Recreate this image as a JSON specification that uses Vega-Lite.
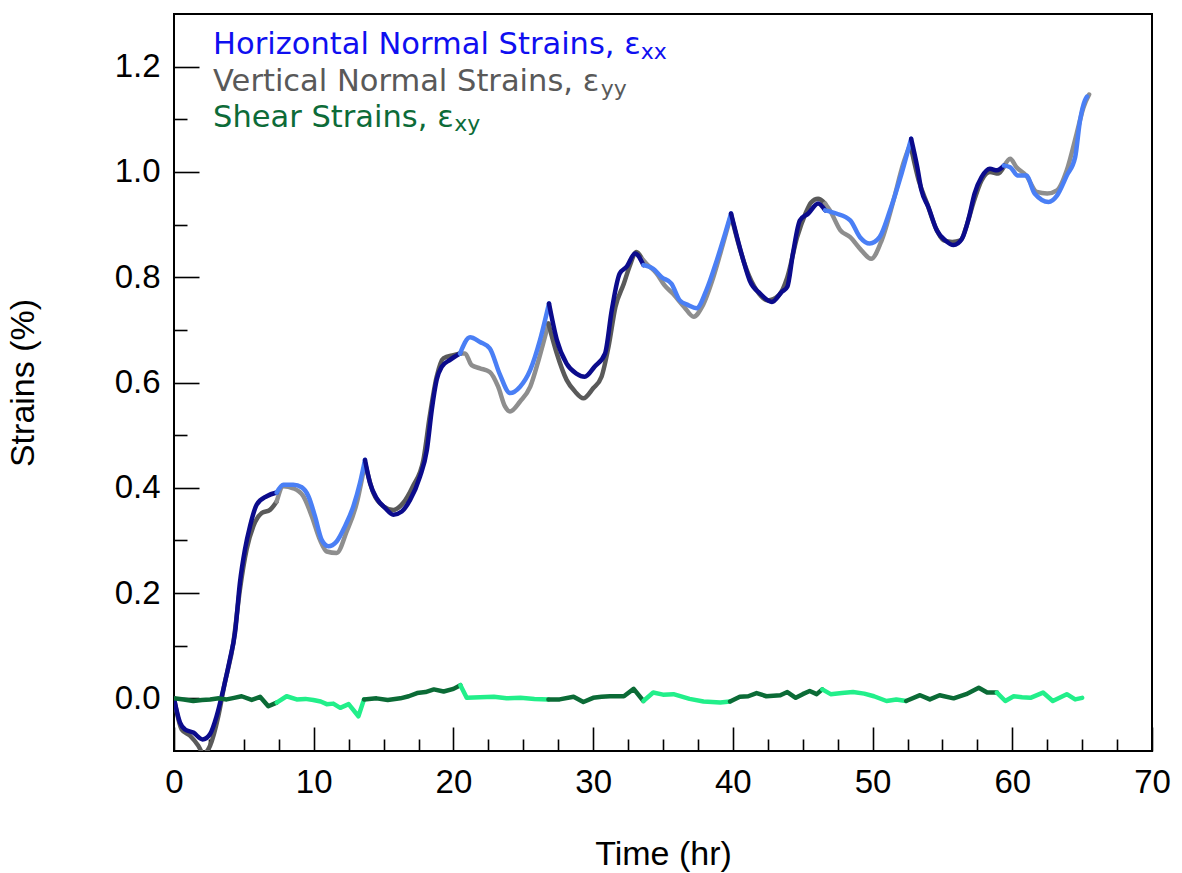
{
  "$schema": "https://vega.github.io/schema/vega-lite/v6.json",
  "width": 978,
  "height": 737,
  "autosize": {"type": "none"},
  "padding": {"left": 174, "top": 14, "right": 30, "bottom": 122},
  "background": "white",
  "config": {
    "view": {"stroke": "black", "strokeWidth": 2},
    "axis": {"labelFont": "Liberation Sans", "titleFont": "Liberation Sans", "labelColor": "black", "titleColor": "black", "tickColor": "black", "titleFontWeight": "normal", "grid": false, "domain": false, "tickWidth": 1.6}
  },
  "datasets": {
    "strain": [
      {"k":"exx A","g":0,"t":0,"v":0},{"k":"exx A","g":0,"t":0.43,"v":-0.046},{"k":"exx A","g":0,"t":0.79,"v":-0.059},{"k":"exx A","g":0,"t":1.38,"v":-0.065},{"k":"exx A","g":0,"t":2.05,"v":-0.078},{"k":"exx A","g":0,"t":2.58,"v":-0.068},{"k":"exx A","g":0,"t":3.05,"v":-0.034},{"k":"exx A","g":0,"t":3.53,"v":0.017},{"k":"exx A","g":0,"t":4.0,"v":0.074},{"k":"exx A","g":0,"t":4.37,"v":0.125},{"k":"exx A","g":0,"t":4.72,"v":0.22},{"k":"exx A","g":0,"t":5.08,"v":0.283},{"k":"exx A","g":0,"t":5.44,"v":0.327},{"k":"exx A","g":0,"t":5.92,"v":0.368},{"k":"exx A","g":0,"t":6.64,"v":0.384},{"k":"exx A","g":0,"t":7.35,"v":0.391},
      {"k":"exx B","g":1,"t":7.35,"v":0.391},{"k":"exx B","g":1,"t":7.83,"v":0.406},{"k":"exx B","g":1,"t":8.54,"v":0.406},{"k":"exx B","g":1,"t":9.14,"v":0.401},{"k":"exx B","g":1,"t":9.62,"v":0.384},{"k":"exx B","g":1,"t":10.09,"v":0.346},{"k":"exx B","g":1,"t":10.57,"v":0.301},{"k":"exx B","g":1,"t":11.05,"v":0.289},{"k":"exx B","g":1,"t":11.64,"v":0.298},{"k":"exx B","g":1,"t":12.24,"v":0.327},{"k":"exx B","g":1,"t":12.84,"v":0.365},{"k":"exx B","g":1,"t":13.31,"v":0.409},{"k":"exx B","g":1,"t":13.67,"v":0.453},
      {"k":"exx A","g":2,"t":13.67,"v":0.453},{"k":"exx A","g":2,"t":14.03,"v":0.409},{"k":"exx A","g":2,"t":14.51,"v":0.38},{"k":"exx A","g":2,"t":15.1,"v":0.362},{"k":"exx A","g":2,"t":15.7,"v":0.349},{"k":"exx A","g":2,"t":16.3,"v":0.355},{"k":"exx A","g":2,"t":16.9,"v":0.377},{"k":"exx A","g":2,"t":17.6,"v":0.421},{"k":"exx A","g":2,"t":18.1,"v":0.472},{"k":"exx A","g":2,"t":18.45,"v":0.548},{"k":"exx A","g":2,"t":18.8,"v":0.605},{"k":"exx A","g":2,"t":19.16,"v":0.63},{"k":"exx A","g":2,"t":19.76,"v":0.643},{"k":"exx A","g":2,"t":20.47,"v":0.655},
      {"k":"exx B","g":3,"t":20.47,"v":0.655},{"k":"exx B","g":3,"t":21.19,"v":0.686},{"k":"exx B","g":3,"t":21.9,"v":0.677},{"k":"exx B","g":3,"t":22.6,"v":0.665},{"k":"exx B","g":3,"t":23.3,"v":0.617},{"k":"exx B","g":3,"t":24.05,"v":0.58},{"k":"exx B","g":3,"t":24.77,"v":0.592},{"k":"exx B","g":3,"t":25.5,"v":0.624},{"k":"exx B","g":3,"t":26.2,"v":0.681},{"k":"exx B","g":3,"t":26.84,"v":0.75},
      {"k":"exx A","g":4,"t":26.84,"v":0.75},{"k":"exx A","g":4,"t":27.4,"v":0.681},{"k":"exx A","g":4,"t":28.1,"v":0.636},{"k":"exx A","g":4,"t":28.8,"v":0.617},{"k":"exx A","g":4,"t":29.4,"v":0.611},{"k":"exx A","g":4,"t":30.1,"v":0.63},{"k":"exx A","g":4,"t":30.85,"v":0.655},{"k":"exx A","g":4,"t":31.33,"v":0.737},{"k":"exx A","g":4,"t":31.9,"v":0.807},{"k":"exx A","g":4,"t":32.4,"v":0.82},{"k":"exx A","g":4,"t":33.0,"v":0.845},{"k":"exx A","g":4,"t":33.6,"v":0.823},
      {"k":"exx B","g":5,"t":33.6,"v":0.823},{"k":"exx B","g":5,"t":34.3,"v":0.816},{"k":"exx B","g":5,"t":34.9,"v":0.8},{"k":"exx B","g":5,"t":35.6,"v":0.788},{"k":"exx B","g":5,"t":36.2,"v":0.756},{"k":"exx B","g":5,"t":36.8,"v":0.747},{"k":"exx B","g":5,"t":37.4,"v":0.741},{"k":"exx B","g":5,"t":38.1,"v":0.775},{"k":"exx B","g":5,"t":38.85,"v":0.832},{"k":"exx B","g":5,"t":39.45,"v":0.883},{"k":"exx B","g":5,"t":39.87,"v":0.921},
      {"k":"exx A","g":6,"t":39.87,"v":0.921},{"k":"exx A","g":6,"t":40.3,"v":0.876},{"k":"exx A","g":6,"t":40.75,"v":0.832},{"k":"exx A","g":6,"t":41.2,"v":0.794},{"k":"exx A","g":6,"t":41.95,"v":0.769},{"k":"exx A","g":6,"t":42.8,"v":0.753},{"k":"exx A","g":6,"t":43.5,"v":0.772},{"k":"exx A","g":6,"t":43.9,"v":0.782},{"k":"exx A","g":6,"t":44.3,"v":0.845},{"k":"exx A","g":6,"t":44.8,"v":0.908},{"k":"exx A","g":6,"t":45.4,"v":0.921},{"k":"exx A","g":6,"t":46.1,"v":0.94},{"k":"exx A","g":6,"t":46.6,"v":0.927},
      {"k":"exx B","g":7,"t":46.6,"v":0.927},{"k":"exx B","g":7,"t":47.4,"v":0.921},{"k":"exx B","g":7,"t":48.4,"v":0.908},{"k":"exx B","g":7,"t":49.1,"v":0.876},{"k":"exx B","g":7,"t":49.8,"v":0.864},{"k":"exx B","g":7,"t":50.5,"v":0.876},{"k":"exx B","g":7,"t":51.25,"v":0.927},{"k":"exx B","g":7,"t":52.0,"v":0.99},{"k":"exx B","g":7,"t":52.76,"v":1.063},
      {"k":"exx A","g":8,"t":52.76,"v":1.063},{"k":"exx A","g":8,"t":53.2,"v":1.009},{"k":"exx A","g":8,"t":53.5,"v":0.965},{"k":"exx A","g":8,"t":54.0,"v":0.933},{"k":"exx A","g":8,"t":54.6,"v":0.889},{"k":"exx A","g":8,"t":55.2,"v":0.87},{"k":"exx A","g":8,"t":55.8,"v":0.861},{"k":"exx A","g":8,"t":56.4,"v":0.873},{"k":"exx A","g":8,"t":56.9,"v":0.914},{"k":"exx A","g":8,"t":57.3,"v":0.959},{"k":"exx A","g":8,"t":57.8,"v":0.99},{"k":"exx A","g":8,"t":58.4,"v":1.006},{"k":"exx A","g":8,"t":58.9,"v":1.003},{"k":"exx A","g":8,"t":59.4,"v":1.012},
      {"k":"exx B","g":9,"t":59.4,"v":1.012},{"k":"exx B","g":9,"t":59.85,"v":1.009},{"k":"exx B","g":9,"t":60.4,"v":0.993},{"k":"exx B","g":9,"t":61.0,"v":0.993},{"k":"exx B","g":9,"t":61.6,"v":0.959},{"k":"exx B","g":9,"t":62.6,"v":0.943},{"k":"exx B","g":9,"t":63.2,"v":0.955},{"k":"exx B","g":9,"t":63.9,"v":0.993},{"k":"exx B","g":9,"t":64.5,"v":1.028},{"k":"exx B","g":9,"t":64.85,"v":1.098},{"k":"exx B","g":9,"t":65.2,"v":1.136},{"k":"exx B","g":9,"t":65.35,"v":1.143},

      {"k":"eyy A","g":0,"t":0,"v":0},{"k":"eyy A","g":0,"t":0.55,"v":-0.059},{"k":"eyy A","g":0,"t":1.15,"v":-0.071},{"k":"eyy A","g":0,"t":1.74,"v":-0.09},{"k":"eyy A","g":0,"t":2.1,"v":-0.105},{"k":"eyy A","g":0,"t":2.58,"v":-0.09},{"k":"eyy A","g":0,"t":3.17,"v":-0.034},{"k":"eyy A","g":0,"t":3.6,"v":0.025},{"k":"eyy A","g":0,"t":4.25,"v":0.106},{"k":"eyy A","g":0,"t":4.72,"v":0.207},{"k":"eyy A","g":0,"t":5.2,"v":0.283},{"k":"eyy A","g":0,"t":5.68,"v":0.327},{"k":"eyy A","g":0,"t":6.28,"v":0.352},{"k":"eyy A","g":0,"t":6.87,"v":0.358},{"k":"eyy A","g":0,"t":7.35,"v":0.374},
      {"k":"eyy B","g":1,"t":7.35,"v":0.374},{"k":"eyy B","g":1,"t":7.83,"v":0.403},{"k":"eyy B","g":1,"t":8.54,"v":0.399},{"k":"eyy B","g":1,"t":9.26,"v":0.384},{"k":"eyy B","g":1,"t":9.86,"v":0.346},{"k":"eyy B","g":1,"t":10.45,"v":0.301},{"k":"eyy B","g":1,"t":10.93,"v":0.279},{"k":"eyy B","g":1,"t":11.64,"v":0.276},{"k":"eyy B","g":1,"t":12.36,"v":0.317},{"k":"eyy B","g":1,"t":13.08,"v":0.371},{"k":"eyy B","g":1,"t":13.67,"v":0.447},
      {"k":"eyy A","g":2,"t":13.67,"v":0.447},{"k":"eyy A","g":2,"t":14.27,"v":0.39},{"k":"eyy A","g":2,"t":14.98,"v":0.365},{"k":"eyy A","g":2,"t":15.7,"v":0.358},{"k":"eyy A","g":2,"t":16.4,"v":0.371},{"k":"eyy A","g":2,"t":17.1,"v":0.403},{"k":"eyy A","g":2,"t":17.85,"v":0.453},{"k":"eyy A","g":2,"t":18.3,"v":0.535},{"k":"eyy A","g":2,"t":18.8,"v":0.611},{"k":"eyy A","g":2,"t":19.28,"v":0.646},{"k":"eyy A","g":2,"t":20.0,"v":0.652},{"k":"eyy A","g":2,"t":20.5,"v":0.655},
      {"k":"eyy B","g":3,"t":20.5,"v":0.655},{"k":"eyy B","g":3,"t":20.83,"v":0.655},{"k":"eyy B","g":3,"t":21.3,"v":0.633},{"k":"eyy B","g":3,"t":21.9,"v":0.627},{"k":"eyy B","g":3,"t":22.6,"v":0.62},{"k":"eyy B","g":3,"t":23.2,"v":0.592},{"k":"eyy B","g":3,"t":23.7,"v":0.554},{"k":"eyy B","g":3,"t":24.05,"v":0.545},{"k":"eyy B","g":3,"t":24.77,"v":0.564},{"k":"eyy B","g":3,"t":25.5,"v":0.592},{"k":"eyy B","g":3,"t":26.1,"v":0.643},{"k":"eyy B","g":3,"t":26.8,"v":0.712},
      {"k":"eyy A","g":4,"t":26.8,"v":0.712},{"k":"eyy A","g":4,"t":27.4,"v":0.655},{"k":"eyy A","g":4,"t":28.1,"v":0.605},{"k":"eyy A","g":4,"t":28.7,"v":0.583},{"k":"eyy A","g":4,"t":29.3,"v":0.57},{"k":"eyy A","g":4,"t":30.0,"v":0.589},{"k":"eyy A","g":4,"t":30.6,"v":0.611},{"k":"eyy A","g":4,"t":31.1,"v":0.668},{"k":"eyy A","g":4,"t":31.6,"v":0.744},{"k":"eyy A","g":4,"t":32.2,"v":0.788},{"k":"eyy A","g":4,"t":32.6,"v":0.82},{"k":"eyy A","g":4,"t":33.1,"v":0.848},{"k":"eyy A","g":4,"t":33.5,"v":0.835},
      {"k":"eyy B","g":5,"t":33.5,"v":0.835},{"k":"eyy B","g":5,"t":33.8,"v":0.826},{"k":"eyy B","g":5,"t":34.55,"v":0.807},{"k":"eyy B","g":5,"t":35.1,"v":0.785},{"k":"eyy B","g":5,"t":35.7,"v":0.769},{"k":"eyy B","g":5,"t":36.5,"v":0.744},{"k":"eyy B","g":5,"t":37.2,"v":0.725},{"k":"eyy B","g":5,"t":37.8,"v":0.744},{"k":"eyy B","g":5,"t":38.6,"v":0.8},{"k":"eyy B","g":5,"t":39.3,"v":0.864},{"k":"eyy B","g":5,"t":39.87,"v":0.918},
      {"k":"eyy A","g":6,"t":39.87,"v":0.918},{"k":"eyy A","g":6,"t":40.4,"v":0.864},{"k":"eyy A","g":6,"t":41.0,"v":0.813},{"k":"eyy A","g":6,"t":41.7,"v":0.775},{"k":"eyy A","g":6,"t":42.5,"v":0.756},{"k":"eyy A","g":6,"t":43.3,"v":0.766},{"k":"eyy A","g":6,"t":43.9,"v":0.8},{"k":"eyy A","g":6,"t":44.6,"v":0.876},{"k":"eyy A","g":6,"t":45.2,"v":0.921},{"k":"eyy A","g":6,"t":45.6,"v":0.942},{"k":"eyy A","g":6,"t":46.1,"v":0.949},{"k":"eyy A","g":6,"t":46.6,"v":0.94},
      {"k":"eyy B","g":7,"t":46.6,"v":0.94},{"k":"eyy B","g":7,"t":46.95,"v":0.927},{"k":"eyy B","g":7,"t":47.7,"v":0.889},{"k":"eyy B","g":7,"t":48.4,"v":0.876},{"k":"eyy B","g":7,"t":49.2,"v":0.851},{"k":"eyy B","g":7,"t":49.9,"v":0.835},{"k":"eyy B","g":7,"t":50.65,"v":0.87},{"k":"eyy B","g":7,"t":51.5,"v":0.946},{"k":"eyy B","g":7,"t":52.2,"v":1.016},{"k":"eyy B","g":7,"t":52.7,"v":1.053},
      {"k":"eyy A","g":8,"t":52.7,"v":1.053},{"k":"eyy A","g":8,"t":53.3,"v":0.984},{"k":"eyy A","g":8,"t":53.9,"v":0.94},{"k":"eyy A","g":8,"t":54.5,"v":0.895},{"k":"eyy A","g":8,"t":55.1,"v":0.87},{"k":"eyy A","g":8,"t":55.7,"v":0.867},{"k":"eyy A","g":8,"t":56.3,"v":0.87},{"k":"eyy A","g":8,"t":56.7,"v":0.895},{"k":"eyy A","g":8,"t":57.2,"v":0.94},{"k":"eyy A","g":8,"t":57.8,"v":0.984},{"k":"eyy A","g":8,"t":58.4,"v":1.0},{"k":"eyy A","g":8,"t":59.0,"v":0.997},{"k":"eyy A","g":8,"t":59.4,"v":1.01},
      {"k":"eyy B","g":9,"t":59.4,"v":1.01},{"k":"eyy B","g":9,"t":59.85,"v":1.025},{"k":"eyy B","g":9,"t":60.3,"v":1.009},{"k":"eyy B","g":9,"t":61.0,"v":0.993},{"k":"eyy B","g":9,"t":61.75,"v":0.962},{"k":"eyy B","g":9,"t":62.5,"v":0.959},{"k":"eyy B","g":9,"t":63.2,"v":0.965},{"k":"eyy B","g":9,"t":63.9,"v":1.003},{"k":"eyy B","g":9,"t":64.6,"v":1.072},{"k":"eyy B","g":9,"t":65.1,"v":1.123},{"k":"eyy B","g":9,"t":65.5,"v":1.147},

      {"k":"exy A","g":0,"t":0,"v":0},{"k":"exy A","g":0,"t":0.7,"v":-0.002},{"k":"exy A","g":0,"t":1.38,"v":-0.005},{"k":"exy A","g":0,"t":2.0,"v":-0.003},{"k":"exy A","g":0,"t":2.58,"v":-0.002},{"k":"exy A","g":0,"t":3.2,"v":0.0},{"k":"exy A","g":0,"t":3.77,"v":-0.002},{"k":"exy A","g":0,"t":4.3,"v":0.001},{"k":"exy A","g":0,"t":4.84,"v":0.004},{"k":"exy A","g":0,"t":5.56,"v":-0.003},{"k":"exy A","g":0,"t":6.16,"v":0.003},{"k":"exy A","g":0,"t":6.75,"v":-0.015},{"k":"exy A","g":0,"t":7.35,"v":-0.008},
      {"k":"exy B","g":1,"t":7.35,"v":-0.008},{"k":"exy B","g":1,"t":8.06,"v":0.004},{"k":"exy B","g":1,"t":8.78,"v":-0.002},{"k":"exy B","g":1,"t":9.4,"v":-0.001},{"k":"exy B","g":1,"t":9.97,"v":-0.003},{"k":"exy B","g":1,"t":10.5,"v":-0.006},{"k":"exy B","g":1,"t":10.93,"v":-0.011},{"k":"exy B","g":1,"t":11.4,"v":-0.01},{"k":"exy B","g":1,"t":11.9,"v":-0.018},{"k":"exy B","g":1,"t":12.5,"v":-0.011},{"k":"exy B","g":1,"t":13.2,"v":-0.034},{"k":"exy B","g":1,"t":13.6,"v":-0.002},
      {"k":"exy A","g":2,"t":13.6,"v":-0.002},{"k":"exy A","g":2,"t":14.5,"v":0.0},{"k":"exy A","g":2,"t":15.3,"v":-0.003},{"k":"exy A","g":2,"t":16.2,"v":0.0},{"k":"exy A","g":2,"t":16.8,"v":0.004},{"k":"exy A","g":2,"t":17.4,"v":0.01},{"k":"exy A","g":2,"t":18.0,"v":0.012},{"k":"exy A","g":2,"t":18.6,"v":0.017},{"k":"exy A","g":2,"t":19.3,"v":0.013},{"k":"exy A","g":2,"t":20.0,"v":0.018},{"k":"exy A","g":2,"t":20.5,"v":0.025},
      {"k":"exy B","g":3,"t":20.5,"v":0.025},{"k":"exy B","g":3,"t":20.95,"v":0.001},{"k":"exy B","g":3,"t":21.9,"v":0.002},{"k":"exy B","g":3,"t":22.9,"v":0.003},{"k":"exy B","g":3,"t":23.8,"v":0.0},{"k":"exy B","g":3,"t":24.8,"v":0.001},{"k":"exy B","g":3,"t":25.8,"v":-0.001},{"k":"exy B","g":3,"t":26.8,"v":-0.002},
      {"k":"exy A","g":4,"t":26.8,"v":-0.002},{"k":"exy A","g":4,"t":27.6,"v":-0.002},{"k":"exy A","g":4,"t":28.6,"v":0.003},{"k":"exy A","g":4,"t":29.3,"v":-0.007},{"k":"exy A","g":4,"t":30.0,"v":0.001},{"k":"exy A","g":4,"t":30.6,"v":0.003},{"k":"exy A","g":4,"t":31.2,"v":0.004},{"k":"exy A","g":4,"t":32.2,"v":0.004},{"k":"exy A","g":4,"t":32.9,"v":0.018},{"k":"exy A","g":4,"t":33.6,"v":-0.005},
      {"k":"exy B","g":5,"t":33.6,"v":-0.005},{"k":"exy B","g":5,"t":34.3,"v":0.011},{"k":"exy B","g":5,"t":35.0,"v":0.007},{"k":"exy B","g":5,"t":35.75,"v":0.008},{"k":"exy B","g":5,"t":36.9,"v":-0.001},{"k":"exy B","g":5,"t":37.9,"v":-0.006},{"k":"exy B","g":5,"t":38.5,"v":-0.007},{"k":"exy B","g":5,"t":39.1,"v":-0.008},{"k":"exy B","g":5,"t":39.8,"v":-0.006},
      {"k":"exy A","g":6,"t":39.8,"v":-0.006},{"k":"exy A","g":6,"t":40.5,"v":0.003},{"k":"exy A","g":6,"t":41.1,"v":0.004},{"k":"exy A","g":6,"t":41.7,"v":0.01},{"k":"exy A","g":6,"t":42.4,"v":0.004},{"k":"exy A","g":6,"t":43.4,"v":0.006},{"k":"exy A","g":6,"t":43.9,"v":0.012},{"k":"exy A","g":6,"t":44.5,"v":0.001},{"k":"exy A","g":6,"t":45.0,"v":0.008},{"k":"exy A","g":6,"t":45.5,"v":0.014},{"k":"exy A","g":6,"t":46.0,"v":0.008},{"k":"exy A","g":6,"t":46.4,"v":0.017},
      {"k":"exy B","g":7,"t":46.4,"v":0.017},{"k":"exy B","g":7,"t":47.0,"v":0.008},{"k":"exy B","g":7,"t":47.8,"v":0.01},{"k":"exy B","g":7,"t":48.6,"v":0.012},{"k":"exy B","g":7,"t":49.4,"v":0.009},{"k":"exy B","g":7,"t":50.1,"v":0.004},{"k":"exy B","g":7,"t":51.0,"v":-0.005},{"k":"exy B","g":7,"t":51.7,"v":-0.002},{"k":"exy B","g":7,"t":52.4,"v":-0.005},
      {"k":"exy A","g":8,"t":52.4,"v":-0.005},{"k":"exy A","g":8,"t":53.4,"v":0.006},{"k":"exy A","g":8,"t":54.1,"v":-0.002},{"k":"exy A","g":8,"t":54.8,"v":0.006},{"k":"exy A","g":8,"t":55.8,"v":0.0},{"k":"exy A","g":8,"t":56.7,"v":0.008},{"k":"exy A","g":8,"t":57.6,"v":0.02},{"k":"exy A","g":8,"t":58.2,"v":0.011},{"k":"exy A","g":8,"t":58.9,"v":0.011},
      {"k":"exy B","g":9,"t":58.9,"v":0.011},{"k":"exy B","g":9,"t":59.5,"v":-0.005},{"k":"exy B","g":9,"t":60.1,"v":0.004},{"k":"exy B","g":9,"t":60.7,"v":0.002},{"k":"exy B","g":9,"t":61.3,"v":0.001},{"k":"exy B","g":9,"t":62.2,"v":0.011},{"k":"exy B","g":9,"t":62.9,"v":-0.005},{"k":"exy B","g":9,"t":63.9,"v":0.008},{"k":"exy B","g":9,"t":64.5,"v":-0.002},{"k":"exy B","g":9,"t":65.0,"v":0.001}
    ],
    "one": [{}]
  },
  "resolve": {"axis": {"x": "independent", "y": "independent"}},
  "layer": [
    {
      "data": {"name": "strain"},
      "transform": [{"filter": {"field": "k", "oneOf": ["eyy A", "eyy B"]}}],
      "mark": {"type": "line", "strokeWidth": 4.5, "clip": true, "strokeJoin": "round", "strokeCap": "round", "interpolate": "monotone"},
      "encoding": {
        "x": {"field": "t", "type": "quantitative", "scale": {"domain": [0, 70], "nice": false, "zero": false},
              "axis": {"orient": "bottom", "values": [0, 10, 20, 30, 40, 50, 60, 70], "tickSize": -24, "labelFontSize": 33, "labelPadding": 39, "labelFlush": false, "labelOverlap": false, "title": "Time (hr)", "titleFontSize": 34, "titlePadding": 38, "format": "d"}},
        "y": {"field": "v", "type": "quantitative", "scale": {"domain": [-0.1, 1.3], "nice": false, "zero": false},
              "axis": {"orient": "left", "values": [0, 0.2, 0.4, 0.6, 0.8, 1.0, 1.2], "tickSize": -25, "labelFontSize": 33, "labelPadding": 39, "labelFlush": false, "labelOverlap": false, "format": ".1f", "title": "Strains (%)", "titleFontSize": 34, "titlePadding": 74}},
        "color": {"field": "k", "type": "nominal", "legend": null,
                  "scale": {"domain": ["exx A", "exx B", "eyy A", "eyy B", "exy A", "exy B"], "range": ["#0b0b8c", "#4a7ff5", "#5a5a5a", "#8e8e8e", "#0b6b36", "#22ef8a"]}},
        "detail": {"field": "g", "type": "nominal"}
      }
    },
    {
      "data": {"name": "strain"},
      "transform": [{"filter": {"field": "k", "oneOf": ["exx A", "exx B"]}}],
      "mark": {"type": "line", "strokeWidth": 4.5, "clip": true, "strokeJoin": "round", "strokeCap": "round", "interpolate": "monotone"},
      "encoding": {
        "x": {"field": "t", "type": "quantitative", "axis": null},
        "y": {"field": "v", "type": "quantitative", "axis": null},
        "color": {"field": "k", "type": "nominal", "legend": null},
        "detail": {"field": "g", "type": "nominal"}
      }
    },
    {
      "data": {"name": "strain"},
      "transform": [{"filter": {"field": "k", "oneOf": ["exy A", "exy B"]}}],
      "mark": {"type": "line", "strokeWidth": 4.5, "clip": true, "strokeJoin": "round", "strokeCap": "round"},
      "encoding": {
        "x": {"field": "t", "type": "quantitative",
              "axis": {"orient": "bottom", "values": [2.5, 5, 7.5, 12.5, 15, 17.5, 22.5, 25, 27.5, 32.5, 35, 37.5, 42.5, 45, 47.5, 52.5, 55, 57.5, 62.5, 65, 67.5], "tickSize": -12, "labels": false, "title": null}},
        "y": {"field": "v", "type": "quantitative",
              "axis": {"orient": "left", "values": [0.1, 0.3, 0.5, 0.7, 0.9, 1.1], "tickSize": -13, "labels": false, "title": null}},
        "color": {"field": "k", "type": "nominal", "legend": null},
        "detail": {"field": "g", "type": "nominal"}
      }
    },
    {
      "data": {"name": "one"},
      "mark": {"type": "text", "align": "left", "baseline": "alphabetic", "font": "DejaVu Sans", "fontSize": 30.5, "color": "#0f0ff0"},
      "encoding": {"x": {"datum": 2.8, "type": "quantitative", "axis": null}, "y": {"datum": 1.224, "type": "quantitative", "axis": null}, "text": {"value": "Horizontal Normal Strains, ε"}}
    },
    {
      "data": {"name": "one"},
      "mark": {"type": "text", "align": "left", "baseline": "alphabetic", "font": "DejaVu Sans", "fontSize": 22, "color": "#0f0ff0"},
      "encoding": {"x": {"datum": 33.4, "type": "quantitative", "axis": null}, "y": {"datum": 1.215, "type": "quantitative", "axis": null}, "text": {"value": "xx"}}
    },
    {
      "data": {"name": "one"},
      "mark": {"type": "text", "align": "left", "baseline": "alphabetic", "font": "DejaVu Sans", "fontSize": 30.5, "color": "#595959"},
      "encoding": {"x": {"datum": 2.8, "type": "quantitative", "axis": null}, "y": {"datum": 1.153, "type": "quantitative", "axis": null}, "text": {"value": "Vertical Normal Strains, ε"}}
    },
    {
      "data": {"name": "one"},
      "mark": {"type": "text", "align": "left", "baseline": "alphabetic", "font": "DejaVu Sans", "fontSize": 22, "color": "#595959"},
      "encoding": {"x": {"datum": 30.55, "type": "quantitative", "axis": null}, "y": {"datum": 1.144, "type": "quantitative", "axis": null}, "text": {"value": "yy"}}
    },
    {
      "data": {"name": "one"},
      "mark": {"type": "text", "align": "left", "baseline": "alphabetic", "font": "DejaVu Sans", "fontSize": 30.5, "color": "#0d6b38"},
      "encoding": {"x": {"datum": 2.8, "type": "quantitative", "axis": null}, "y": {"datum": 1.086, "type": "quantitative", "axis": null}, "text": {"value": "Shear Strains, ε"}}
    },
    {
      "data": {"name": "one"},
      "mark": {"type": "text", "align": "left", "baseline": "alphabetic", "font": "DejaVu Sans", "fontSize": 22, "color": "#0d6b38"},
      "encoding": {"x": {"datum": 20.05, "type": "quantitative", "axis": null}, "y": {"datum": 1.077, "type": "quantitative", "axis": null}, "text": {"value": "xy"}}
    }
  ]
}
